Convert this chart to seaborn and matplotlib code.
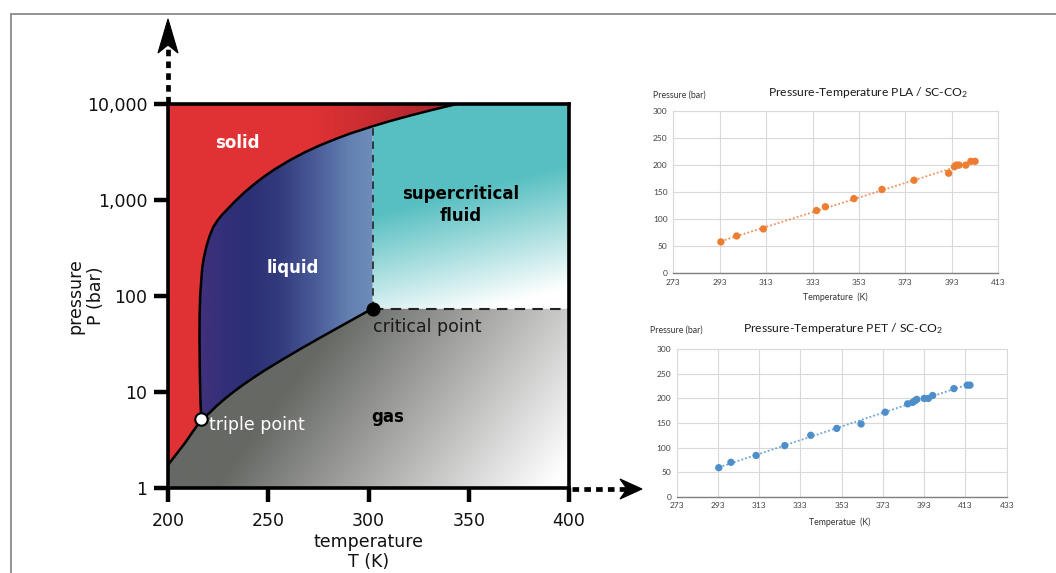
import numpy as np
import matplotlib
matplotlib.use("Agg")
import matplotlib.pyplot as plt
from matplotlib.patches import Polygon
from matplotlib.lines import Line2D
from matplotlib.ticker import FixedLocator, FixedFormatter, NullLocator
from matplotlib.colors import to_rgb
import seaborn as sns

# ---------------- CO2 phase diagram (temperature K, pressure bar) ----------------
sub_T = [200.0, 208.5, 216.6]
sub_P = [1.74, 2.95, 5.18]

vap_T = [216.6, 220.45, 224.44, 228.43, 232.42, 236.91, 241.9, 248.38, 255.86,
         265.84, 275.81, 285.79, 295.76, 302.0]
vap_P = [5.18, 5.99, 7.22, 8.52, 9.93, 11.66, 13.77, 16.87, 21.03,
         27.92, 36.7, 48.0, 62.7, 74.0]

melt_T = [216.6, 216.16, 215.86, 215.71, 215.76, 216.06, 216.61, 217.06, 217.96,
          219.2, 220.75, 222.59, 224.69, 226.93, 229.28, 233.42, 238.4, 243.39,
          248.38, 253.37, 260.85, 268.33, 275.81, 283.29, 290.77, 302.0, 310.72,
          320.7, 330.67, 338.15, 344.14]
melt_P = [5.18, 8.25, 16.9, 34.8, 63.4, 102.4, 146.8, 195.7, 254.8,
          331.8, 421.7, 523.2, 611.6, 699.6, 786.8, 969.4, 1214.5, 1485.6,
          1782.4, 2098.6, 2603.4, 3147.6, 3714, 4298, 4917, 5857, 6636,
          7572, 8558, 9350, 10000]

triple_T, triple_P = 216.6, 5.18
critical_T, critical_P = 302.0, 74.0

t_ticks = [200, 250, 300, 350, 400]
p_ticks = [1, 10, 100, 1000, 10000]
p_tick_labels = ["1", "10", "100", "1,000", "10,000"]

# ---------------- pressure vs temperature in scCO2 ----------------
pla_T = [293.5, 300.3, 311.8, 334.7, 338.5, 350.8, 362.9, 376.7, 391.6, 394.1,
         394.9, 396.1, 399.0, 401.2, 403.0]
pla_P = [58, 69, 82, 116, 123, 138, 155, 172, 185, 197, 200, 200, 200, 207, 207]

pet_T = [293.4, 299.3, 311.5, 325.4, 338.0, 350.6, 362.4, 374.1, 385.0, 387.4,
         388.4, 389.4, 393.0, 395.0, 397.1, 407.4, 413.9, 415.2]
pet_P = [59, 70, 84, 104, 125, 139, 148, 172, 189, 192, 195, 198, 200, 200, 206,
         220, 227, 227]

pla_xticks = [273, 293, 313, 333, 353, 373, 393, 413]
pet_xticks = [273, 293, 313, 333, 353, 373, 393, 413, 433]
bar_ticks = [0, 50, 100, 150, 200, 250, 300]

# ---------------- figure ----------------
sns.set_theme(style="white")
plt.rcParams["font.family"] = ["DejaVu Sans"]
plt.rcParams["mathtext.default"] = "regular"

W, H = 1056, 573
fig = plt.figure(figsize=(W / 100, H / 100), dpi=100)
fig.patch.set_facecolor("white")


def fx(x):
    return x / W


def fy(y):
    return 1 - y / H


# thin frame along top and left
fig.add_artist(Line2D([fx(11), 1.0], [fy(14), fy(14)], color="#8a8a8a", lw=1.3))
fig.add_artist(Line2D([fx(11), fx(11)], [fy(14), 0.0], color="#8a8a8a", lw=1.3))

# ---------------- phase diagram ----------------
ax = fig.add_axes([168 / W, 1 - 488 / H, 401 / W, 384 / H])
ax.set_yscale("log")
ax.set_xlim(200, 400)
ax.set_ylim(1, 10000)

# gradient grids in axes-fraction space
nx, ny = 500, 500
U, V = np.meshgrid((np.arange(nx) + 0.5) / nx, (np.arange(ny) + 0.5) / ny)
PX = 168 + U * 401
PY = 488 - V * 384
TT = 200 + U * 200


def lerp(c0, c1, f):
    c0 = np.array(to_rgb(c0))
    c1 = np.array(to_rgb(c1))
    return c0[None, None, :] * (1 - f[..., None]) + c1[None, None, :] * f[..., None]


# solid: bright red darkening to the right
solid_img = lerp("#e03234", "#ae262e", np.clip((TT - 272) / (335 - 272), 0, 1))

# liquid: purple/navy to steel blue
liq_stops_T = [216, 228, 240, 255, 272, 290, 302]
liq_stops_c = [to_rgb(c) for c in ["#41307b", "#33307a", "#2c2f75", "#323a7c",
                                   "#475895", "#6380b0", "#6d8cb9"]]
liquid_img = np.stack([np.interp(TT, liq_stops_T, [c[k] for c in liq_stops_c])
                       for k in range(3)], axis=-1)

# supercritical: teal fading to white toward lower right
su = (PX - 372) / 197
sv = (PY - 104) / 204
s_sc = 0.25 * su + sv
super_img = lerp("#57bfc1", "#ffffff", np.clip((s_sc - 0.55) / (1.15 - 0.55), 0, 1))

# gas: dark grey fading to white toward lower right
p_gas = 0.802 * (PX - 200) + 0.597 * (PY - 490)
gas_img = lerp("#666864", "#ffffff", np.clip((p_gas - 10) / 270, 0, 1))

i_crit = melt_T.index(critical_T)
melt = list(zip(melt_T, melt_P))
vap = list(zip(vap_T, vap_P))
sub = list(zip(sub_T, sub_P))

solid_poly = [(200, 10000)] + melt[::-1] + sub[::-1][1:]
liquid_poly = melt[:i_crit + 1] + vap[::-1]
super_poly = [(critical_T, critical_P), (400, critical_P), (400, 10000)] + melt[i_crit:][::-1]
gas_poly = [(200, 1), (400, 1), (400, critical_P)] + vap[::-1] + sub[::-1][1:]

for img, poly in [(gas_img, gas_poly), (super_img, super_poly),
                  (liquid_img, liquid_poly), (solid_img, solid_poly)]:
    im = ax.imshow(img, extent=(0, 1, 0, 1), transform=ax.transAxes, origin="lower",
                   aspect="auto", interpolation="bilinear", zorder=1)
    clip = Polygon(poly, closed=True, transform=ax.transData)
    im.set_clip_path(clip)

# phase boundaries
for xs, ys in [(sub_T, sub_P), (vap_T, vap_P), (melt_T, melt_P)]:
    sns.lineplot(x=xs, y=ys, ax=ax, color="black", lw=1.8, sort=False,
                 estimator=None, zorder=4)

# critical isotherm / isobar
ax.plot([critical_T, critical_T], [critical_P, melt_P[i_crit]], color="#222222",
        lw=1.2, ls=(0, (4.5, 3.5)), zorder=3)
ax.plot([critical_T, 400], [critical_P, critical_P], color="#222222",
        lw=1.5, ls=(0, (5, 3.5)), zorder=3)

# special points
sns.scatterplot(x=[critical_T], y=[critical_P], ax=ax, color="black", s=80,
                edgecolor="black", linewidth=1.2, zorder=6)
sns.scatterplot(x=[triple_T], y=[triple_P], ax=ax, color="white", s=80,
                edgecolor="black", linewidth=1.5, zorder=6)

# region labels
ax.text(234.4, 3900, "solid", color="white", fontsize=12, fontweight="bold",
        ha="center", va="center", zorder=7)
ax.text(262.5, 194, "liquid", color="white", fontsize=12, fontweight="bold",
        ha="center", va="center", zorder=7)
ax.text(346, 880, "supercritical\nfluid", color="black", fontsize=12,
        fontweight="bold", ha="center", va="center", linespacing=1.3, zorder=7)
ax.text(309.7, 5.5, "gas", color="black", fontsize=12, fontweight="bold",
        ha="center", va="center", zorder=7)
ax.text(302.3, 47.5, "critical point", color="#1a1a1a", fontsize=12.5,
        ha="left", va="center", zorder=7)
ax.text(220.5, 4.5, "triple point", color="white", fontsize=12.5,
        ha="left", va="center", zorder=7)

ax.xaxis.set_major_locator(FixedLocator(t_ticks))
ax.yaxis.set_major_locator(FixedLocator(p_ticks))
ax.yaxis.set_major_formatter(FixedFormatter(p_tick_labels))
ax.yaxis.set_minor_locator(NullLocator())
for sp in ax.spines.values():
    sp.set_linewidth(2.6)
    sp.set_color("black")
    sp.set_zorder(8)
ax.tick_params(axis="both", which="major", direction="out", length=10, width=3.2,
               color="black", labelsize=12.5, labelcolor="#111111", pad=5,
               bottom=True, left=True)
ax.tick_params(axis="x", pad=7)
ax.set_xlabel("temperature\nT (K)", fontsize=12.5, color="#111111", linespacing=1.15)
ax.set_ylabel("pressure\nP (bar)", fontsize=12.5, color="#111111", linespacing=1.15)
ax.xaxis.set_label_coords(0.5, -0.117)
ax.yaxis.set_label_coords(-0.158, 0.5)

# dashed axis arrows
fig.add_artist(Line2D([fx(168), fx(168)], [fy(103), fy(46)], color="black", lw=3.4,
                      ls=(0, (1.4, 1.1)), solid_capstyle="butt", dash_capstyle="butt"))
fig.add_artist(Polygon([(fx(168), fy(19)), (fx(158), fy(53)), (fx(168), fy(45)),
                        (fx(178), fy(53))], closed=True, transform=fig.transFigure,
                       facecolor="black", edgecolor="black", lw=0.8))
fig.add_artist(Line2D([fx(572), fx(626)], [fy(489), fy(489)], color="black", lw=3.4,
                      ls=(0, (1.4, 1.1)), dash_capstyle="butt"))
fig.add_artist(Polygon([(fx(642), fy(489)), (fx(620), fy(479)), (fx(627), fy(489)),
                        (fx(620), fy(499))], closed=True, transform=fig.transFigure,
                       facecolor="black", edgecolor="black", lw=0.8))

# ---------------- small scatter charts ----------------
def excel_axes(rect, xlim, xticks):
    a = fig.add_axes(rect)
    a.set_xlim(*xlim)
    a.set_ylim(0, 300)
    a.set_xticks(xticks)
    a.set_yticks(bar_ticks)
    a.grid(True, color="#d9d9d9", lw=0.8)
    a.set_axisbelow(True)
    for name, sp in a.spines.items():
        sp.set_color("#d9d9d9")
        sp.set_linewidth(0.8)
    a.spines["bottom"].set_color("#7f7f7f")
    a.spines["bottom"].set_linewidth(1.0)
    a.tick_params(length=0, labelsize=6, labelcolor="#404040", pad=4)
    for lab in a.get_xticklabels() + a.get_yticklabels():
        lab.set_family("Lato")
    return a


ax1 = excel_axes([673.3 / W, 1 - 273.3 / H, 325 / W, 162.3 / H], (273, 413), pla_xticks)
sns.regplot(x=pla_T, y=pla_P, ax=ax1, scatter=False, ci=None, color="#f0925a",
            line_kws=dict(lw=1.3, ls=(0, (1, 1.2))))
sns.scatterplot(x=pla_T, y=pla_P, ax=ax1, color="#ed7d31", s=28, edgecolor="none",
                zorder=3)
ax1.set_xlabel("")
ax1.set_ylabel("")

ax2 = excel_axes([676.7 / W, 1 - 496.7 / H, 330 / W, 147.4 / H], (273, 433), pet_xticks)
sns.regplot(x=pet_T, y=pet_P, ax=ax2, scatter=False, ci=None, color="#6aa3d6",
            line_kws=dict(lw=1.3, ls=(0, (1, 1.2))))
sns.scatterplot(x=pet_T, y=pet_P, ax=ax2, color="#4f8fc9", s=28, edgecolor="none",
                zorder=3)
ax2.set_xlabel("")
ax2.set_ylabel("")

# chart titles and axis captions
fig.text(fx(868), fy(93), "Pressure-Temperature PLA / SC-CO$_2$", family="Lato",
         fontsize=8.7, color="#1a1a1a", ha="center", va="center")
fig.text(fx(653), fy(95), "Pressure (bar)", family="Lato", fontsize=6.3,
         color="#333333", ha="left", va="center")
fig.text(fx(835), fy(297), "Temperature  (K)", family="Lato", fontsize=6.3,
         color="#333333", ha="center", va="center")

fig.text(fx(843), fy(329), "Pressure-Temperature PET / SC-CO$_2$", family="Lato",
         fontsize=8.7, color="#1a1a1a", ha="center", va="center")
fig.text(fx(650), fy(330), "Pressure (bar)", family="Lato", fontsize=6.3,
         color="#333333", ha="left", va="center")
fig.text(fx(840), fy(522), "Temperatue  (K)", family="Lato", fontsize=6.3,
         color="#333333", ha="center", va="center")

fig.savefig("out.png", dpi=100, facecolor="white")
